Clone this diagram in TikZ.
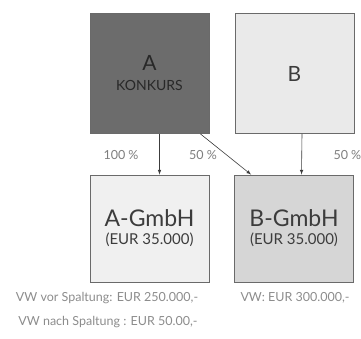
\documentclass[tikz,border=0pt]{standalone}
\usepackage{fontspec}
\setmainfont{Lato}
\usetikzlibrary{arrows}

\definecolor{rahmen}{HTML}{6A6A6A}
\definecolor{schrift}{HTML}{3C3C3C}
\definecolor{hell}{HTML}{8C8C8C}

\tikzset{
  firma/.style={draw=rahmen, line width=0.9pt, minimum width=119pt, minimum height=120pt, inner sep=0pt, align=center, text=schrift},
  gmbh/.style={firma, minimum height=107pt},
  pfeil/.style={draw=schrift, line width=0.6pt, -latex},
  quote/.style={text=hell!90!black, font=\fontsize{12.5}{14}\selectfont},
  notiz/.style={text=hell, font=\fontsize{12.5}{14}\selectfont}
}

\begin{document}
\begin{tikzpicture}[x=1pt,y=-1pt]
      \useasboundingbox (0,0) rectangle (361,338);

       %draw companies
      \node[firma, fill={rgb,255:red,108;green,108;blue,108}, text={rgb,255:red,40;green,40;blue,40}] (A) at (149.5,73.5)
        {{\fontsize{21}{22}\selectfont A}\\[8pt]{\fontsize{14}{16}\selectfont KONKURS}};
      \node[firma, fill={rgb,255:red,234;green,234;blue,234}] (B) at (294.5,73.5)
        {\fontsize{21}{22}\selectfont B};

       %draw new companies
      \node[gmbh, fill={rgb,255:red,240;green,240;blue,240}] (AG) at (149.5,228.5)
        {{\fontsize{23}{24}\selectfont A-GmbH}\\[6pt]{\fontsize{15}{17}\selectfont (EUR 35.000)}};
      \node[gmbh, fill={rgb,255:red,214;green,214;blue,214}] (BG) at (294,228.5)
        {{\fontsize{23}{24}\selectfont B-GmbH}\\[6pt]{\fontsize{15}{17}\selectfont (EUR 35.000)}};

       %draw shares
      \draw[pfeil] ([xshift=10pt]A.south) -- ([xshift=10pt]AG.north);
      \draw[pfeil] ([xshift=7.5pt]B.south) -- ([xshift=7.5pt]BG.north);
      \draw[pfeil] ([xshift=-9pt]A.south east) -- ([xshift=17pt]BG.north west);

      \node[quote] (p1) at (121,155) {100 \%};
      \node[quote] (p2) at (203,155) {50 \%};
      \node[quote, anchor=west] (p3) at (330,155) {50 \%};

       %draw assets
      \node[notiz] (v1) at (107,298) {VW vor Spaltung: EUR 250.000,-};
      \node[notiz] (v2) at (295,298) {VW: EUR 300.000,-};
      \node[notiz] (v3) at (108,322) {VW nach Spaltung : EUR 50.00,-};
    \end{tikzpicture}
\end{document}
